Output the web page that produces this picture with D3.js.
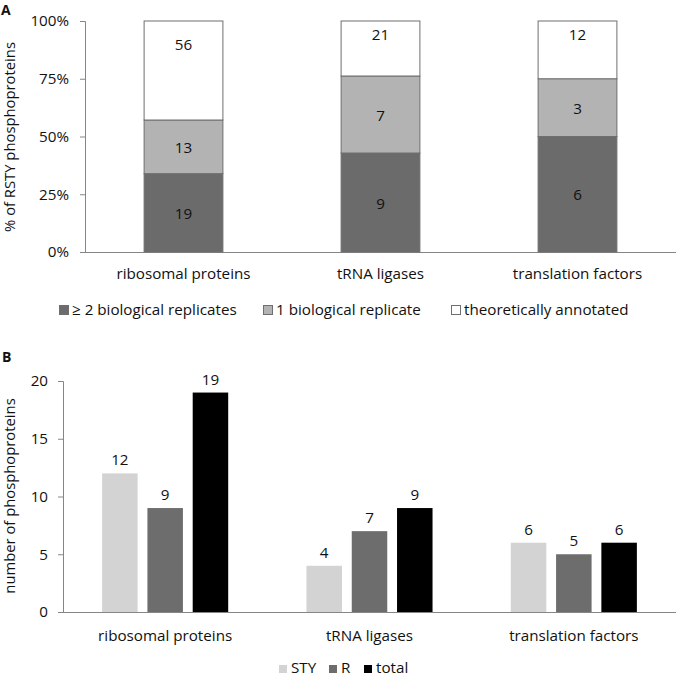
<!DOCTYPE html>
<html><head><meta charset="utf-8">
<script src="https://cdn.jsdelivr.net/npm/d3@7"></script>
<style>body{margin:0;background:#fff}svg{display:block}text{font-family:'Open Sans',sans-serif;fill:#111}</style>
</head><body>
<svg id="c" width="676" height="676"></svg>
<script>
// Panel A data
const categories = ["ribosomal proteins", "tRNA ligases", "translation factors"];
const replicates2 = [19, 9, 6];       // ≥ 2 biological replicates
const replicate1 = [13, 7, 3];        // 1 biological replicate
const annotated = [56, 21, 12];       // theoretically annotated (total)
const pctTicks = [0, 0.25, 0.5, 0.75, 1];
const legendA = ["≥ 2 biological replicates", "1 biological replicate", "theoretically annotated"];
// Panel B data
const seriesB = ["STY", "R", "total"];
const sty = [12, 4, 6];
const rVals = [9, 7, 5];
const total = [19, 9, 6];
const countTicks = [0, 5, 10, 15, 20];

const svg = d3.select("#c");
const FS = "15.2px";
const axisCol = "#868686";

// ---------- Panel A ----------
const xA = d3.scaleBand().domain(categories).range([85, 676]).paddingInner(0.6).paddingOuter(0.3);
const yA = d3.scaleLinear().domain([0, 1]).range([252, 21]);
const colA = ["#6b6b6b", "#b3b3b3", "#ffffff"];

const gA = svg.append("g");
const axA = gA.append("g").attr("transform", "translate(85,0)")
  .call(d3.axisLeft(yA).tickValues(pctTicks).tickFormat(d3.format(".0%")).tickSize(5).tickPadding(11));
axA.select(".domain").attr("stroke", axisCol).attr("d", "M-5,21.5H0.5V252.5");
axA.selectAll(".tick line").attr("stroke", axisCol);
axA.selectAll(".tick text").style("font-size", FS).attr("fill", "#111").attr("font-family", "'Open Sans'");
gA.append("line").attr("x1", 85).attr("x2", 676).attr("y1", yA(0) + 0.5).attr("y2", yA(0) + 0.5).attr("stroke", axisCol);

categories.forEach((c, i) => {
  const tot = annotated[i];
  const segs = [
    { v0: 0, v1: replicates2[i] / tot, lab: replicates2[i], col: colA[0], pos: 0.5 },
    { v0: replicates2[i] / tot, v1: (replicates2[i] + replicate1[i]) / tot, lab: replicate1[i], col: colA[1], pos: 0.5 },
    { v0: (replicates2[i] + replicate1[i]) / tot, v1: 1, lab: annotated[i], col: colA[2], pos: 0.77 }
  ];
  segs.forEach(s => {
    gA.append("rect").attr("x", xA(c)).attr("width", xA.bandwidth())
      .attr("y", yA(s.v1)).attr("height", yA(s.v0) - yA(s.v1))
      .attr("fill", s.col).attr("stroke", "#6f6f6f").attr("stroke-width", 1);
    const ty = yA(s.v0) + (yA(s.v1) - yA(s.v0)) * s.pos;
    gA.append("text").attr("x", xA(c) + xA.bandwidth() / 2).attr("y", ty)
      .attr("text-anchor", "middle").attr("dominant-baseline", "central").style("font-size", FS).text(s.lab);
  });
  gA.append("text").attr("x", xA(c) + xA.bandwidth() / 2).attr("y", 279)
    .attr("text-anchor", "middle").style("font-size", FS).text(c);
});
gA.append("text").attr("transform", "translate(15,137) rotate(-90)").attr("text-anchor", "middle")
  .style("font-size", "14.8px").text("% of RSTY phosphoproteins");
gA.append("text").attr("x", 1).attr("y", 15).style("font-size", "14px").style("font-weight", "bold").text("A");

const legAx = [59, 263, 451];
legendA.forEach((t, i) => {
  gA.append("rect").attr("x", legAx[i] + 0.5).attr("y", 305.5).attr("width", 9).attr("height", 9)
    .attr("fill", colA[i]).attr("stroke", "#6f6f6f");
  gA.append("text").attr("x", legAx[i] + 13).attr("y", 315).style("font-size", FS).text(t);
});

// ---------- Panel B ----------
const x0 = d3.scaleBand().domain(categories).range([63, 676]).paddingInner(0.383).paddingOuter(0.1915);
const x1 = d3.scaleBand().domain(seriesB).range([0, x0.bandwidth()]).paddingInner(0.216).paddingOuter(0);
const yB = d3.scaleLinear().domain([0, 20]).range([612, 381]);
const colB = { STY: "#d3d3d3", R: "#6d6d6d", total: "#000000" };
const valsB = { STY: sty, R: rVals, total: total };

const gB = svg.append("g");
const axB = gB.append("g").attr("transform", "translate(63,0)")
  .call(d3.axisLeft(yB).tickValues(countTicks).tickSize(5).tickPadding(10));
axB.select(".domain").attr("stroke", axisCol).attr("d", "M-5,381.5H0.5V612.5");
axB.selectAll(".tick line").attr("stroke", axisCol);
axB.selectAll(".tick text").style("font-size", FS).attr("fill", "#111").attr("font-family", "'Open Sans'");

categories.forEach((c, i) => {
  seriesB.forEach(s => {
    const v = valsB[s][i];
    gB.append("rect").attr("x", x0(c) + x1(s)).attr("width", x1.bandwidth())
      .attr("y", yB(v)).attr("height", yB(0) - yB(v)).attr("fill", colB[s]);
    gB.append("text").attr("x", x0(c) + x1(s) + x1.bandwidth() / 2).attr("y", yB(v) - 8)
      .attr("text-anchor", "middle").style("font-size", FS).text(v);
  });
  gB.append("text").attr("x", x0(c) + x0.bandwidth() / 2).attr("y", 641)
    .attr("text-anchor", "middle").style("font-size", FS).text(c);
});
gB.append("line").attr("x1", 63).attr("x2", 676).attr("y1", yB(0) + 0.5).attr("y2", yB(0) + 0.5).attr("stroke", axisCol);
gB.append("text").attr("transform", "translate(15,496) rotate(-90)").attr("text-anchor", "middle")
  .style("font-size", "14.8px").text("number of phosphoproteins");
gB.append("text").attr("x", 2).attr("y", 362).style("font-size", "14px").style("font-weight", "bold").text("B");

const legBx = [279, 329, 364];
seriesB.forEach((s, i) => {
  gB.append("rect").attr("x", legBx[i]).attr("y", 665).attr("width", 8).attr("height", 8).attr("fill", colB[s]);
  gB.append("text").attr("x", legBx[i] + 12).attr("y", 673).style("font-size", FS).text(s);
});
</script>
</body></html>
